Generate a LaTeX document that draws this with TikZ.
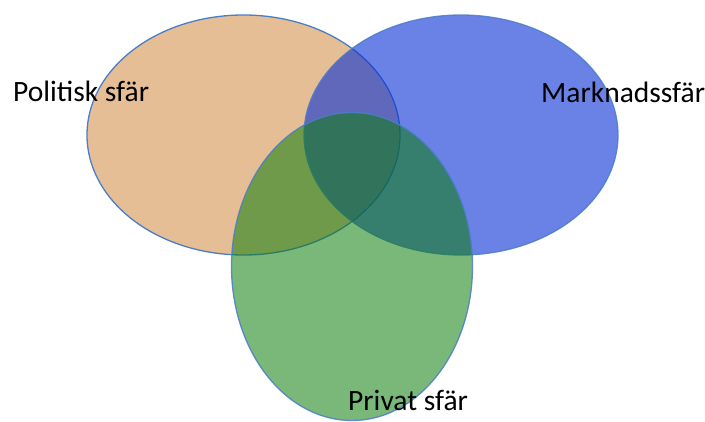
\documentclass[tikz,border=0pt]{standalone}
\usepackage{fontspec}
\setmainfont{Carlito}
\definecolor{orangefill}{RGB}{230,190,150}
\definecolor{bluefill}{RGB}{7,48,213}
\definecolor{greenfill}{RGB}{13,126,13}
\definecolor{edgeblue}{RGB}{74,126,200}
\begin{document}
\begin{tikzpicture}[x=1pt,y=-1pt,
  sphere/.style={draw=edgeblue,line width=1.3pt},
  lbl/.style={anchor=base west,inner sep=0pt,font=\fontsize{29.5}{32}\selectfont,text=black}]
\useasboundingbox (0,0) rectangle (705,422);
\fill[white] (0,0) rectangle (705,422);
\path[sphere,fill=orangefill] (243.5,135) ellipse [x radius=156.5,y radius=120];
\path[sphere,fill=bluefill,fill opacity=0.6,draw opacity=0.85] (461,135) ellipse [x radius=157,y radius=120];
\path[sphere,fill=greenfill,fill opacity=0.55,draw opacity=0.85] (352,266.5) ellipse [x radius=120.5,y radius=154];
\node[lbl] (pol) at (13,102) {Politisk sfär};
\node[lbl] (mark) at (541,102.5) {Marknadssfär};
\node[lbl] (priv) at (348,410) {Privat sfär};
\end{tikzpicture}
\end{document}
